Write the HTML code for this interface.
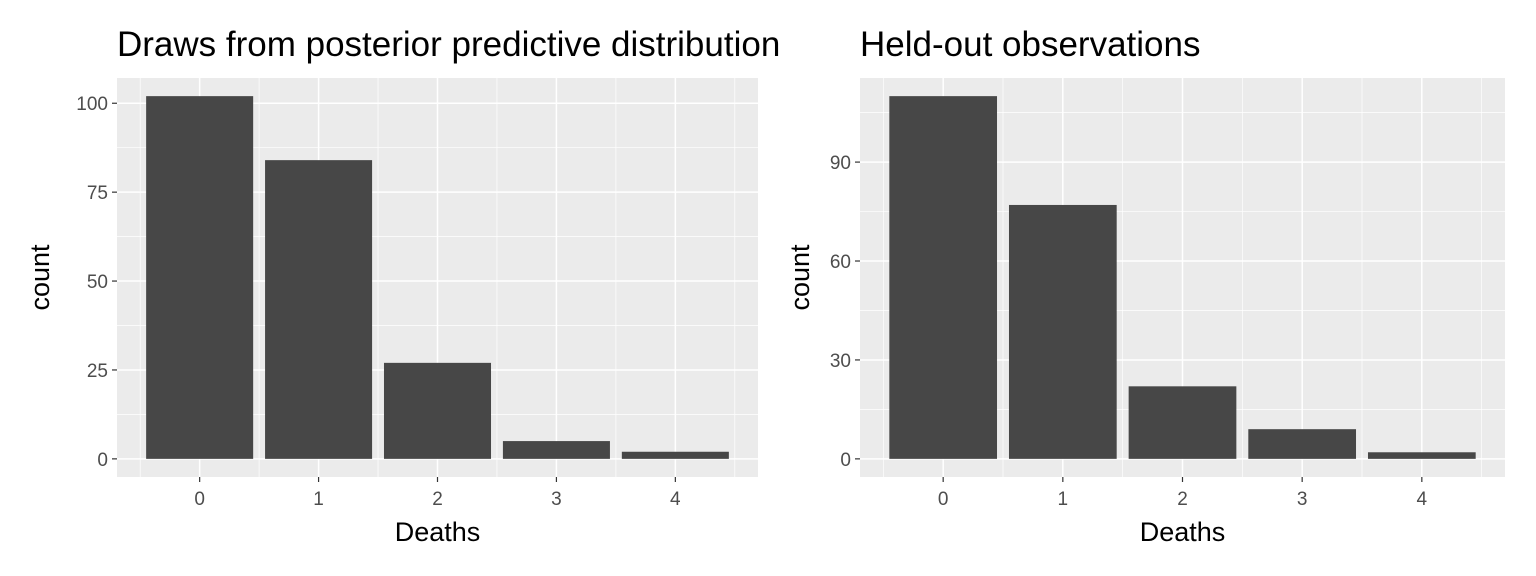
<!DOCTYPE html>
<html><head><meta charset="utf-8"><style>
body{margin:0;background:#fff;}
svg{display:block;font-family:"Liberation Sans",Arial,sans-serif;}
</style></head><body>
<svg id="c" width="1536" height="576"></svg>
<script>
const categories=[0,1,2,3,4];
const leftCounts=[102,84,27,5,2];
const rightCounts=[110,77,22,9,2];
const leftTicks=[0,25,50,75,100];
const rightTicks=[0,30,60,90];
const leftTitle="Draws from posterior predictive distribution";
const rightTitle="Held-out observations";
const NS="http://www.w3.org/2000/svg";
const svg=document.getElementById('c');
function el(t,a,p){const e=document.createElementNS(NS,t);for(const k in a)e.setAttribute(k,a[k]);(p||svg).appendChild(e);return e;}
function panel(x0,x1,title,counts,ticks,minorStep,name,ylabX){
  const y0=78,y1=477;
  const g=el('g',{});
  
  
  const maxV=Math.max(...counts);
  const ymin=-maxV*0.05,ymax=maxV*1.05;
  const ys=v=>y1-(v-ymin)/(ymax-ymin)*(y1-y0);
  const xmin=-0.45-0.245,xmax=4.45+0.245;
  const xs=v=>x0+(v-xmin)/(xmax-xmin)*(x1-x0);
  const bg=el('rect',{x:x0,y:y0,width:x1-x0,height:y1-y0,fill:'#ebebeb'},g);
  
  
  for(let v=minorStep/2;v<ymax;v+=minorStep){if(v>ymin)el('line',{x1:x0,x2:x1,y1:ys(v),y2:ys(v),stroke:'#fff','stroke-width':0.7},g);}
  for(let v=-0.5;v<=4.5;v+=1)el('line',{x1:xs(v),x2:xs(v),y1:y0,y2:y1,stroke:'#fff','stroke-width':0.7},g);
  ticks.forEach(t=>{
    el('line',{x1:x0,x2:x1,y1:ys(t),y2:ys(t),stroke:'#fff','stroke-width':1.5},g);
    el('line',{x1:x0-5,x2:x0,y1:ys(t),y2:ys(t),stroke:'#333','stroke-width':1.2},g);
    const tx=el('text',{x:x0-9,y:ys(t)+7,'text-anchor':'end','font-size':19,fill:'#4d4d4d'},g);tx.textContent=t;
    
    
  });
  categories.forEach((c,i)=>{
    el('line',{x1:xs(c),x2:xs(c),y1:y0,y2:y1,stroke:'#fff','stroke-width':1.5},g);
    el('line',{x1:xs(c),x2:xs(c),y1:y1,y2:y1+5,stroke:'#333','stroke-width':1.2},g);
    const tx=el('text',{x:xs(c),y:y1+28,'text-anchor':'middle','font-size':19,fill:'#4d4d4d'},g);tx.textContent=c;
    
    
  });
  categories.forEach((c,i)=>{
    const b=el('rect',{x:xs(c-0.45),y:ys(counts[i]),width:xs(c+0.45)-xs(c-0.45),height:ys(0)-ys(counts[i]),fill:'#474747'},g);
    
    
  });
  const t=el('text',{x:x0,y:56,'font-size':35,fill:'#000'},g);t.textContent=title;
  
  
  const xl=el('text',{x:(x0+x1)/2,y:541,'text-anchor':'middle','font-size':27,fill:'#000'},g);xl.textContent='Deaths';
  
  
  const yl=el('text',{x:0,y:0,'text-anchor':'middle','font-size':27,fill:'#000',transform:`translate(${ylabX},${(y0+y1)/2}) rotate(-90)`},g);yl.textContent='count';
  
  
}
panel(117,758,leftTitle,leftCounts,leftTicks,25,'left',49);
panel(860,1505,rightTitle,rightCounts,rightTicks,30,'right',809);
</script>
</body></html>
